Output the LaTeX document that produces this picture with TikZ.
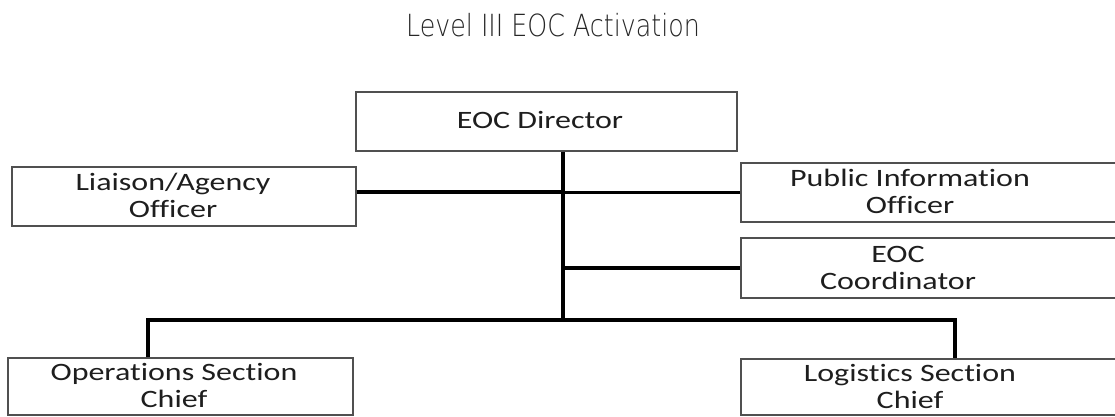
\documentclass[tikz,border=0pt]{standalone}
\usepackage{fontspec}
\setmainfont{Carlito}[Ligatures={NoCommon}]
\newfontfamily\titlefont{DejaVu Sans ExtraLight}
\usetikzlibrary{calc}
\definecolor{boxline}{HTML}{505050}
\definecolor{txt}{HTML}{1E1E1E}
\newcommand{\boxtext}[1]{\scalebox{1.28}[1]{\fontsize{25}{27}\selectfont\begin{tabular}{@{}c@{}}#1\end{tabular}}}
\tikzset{
  orgbox/.style={draw=boxline, line width=1.4pt, fill=white, inner sep=0pt},
  labeltext/.style={inner sep=0pt, text=txt},
  conn/.style={draw=black, line width=3.6pt},
  titletext/.style={inner sep=0pt, text=black!85, anchor=base}
}
\begin{document}
\begin{tikzpicture}[x=1pt, y=-1pt]
\path[use as bounding box, clip] (0,0) rectangle (1115,417);
\fill[white] (0,0) rectangle (1115,417);

\node[titletext] (title) at (553,37) {\scalebox{0.83}[1]{\titlefont\fontsize{30.5}{36}\selectfont Level III EOC Activation}};

% boxes
\node[orgbox, minimum width=381pt, minimum height=59pt] (dir) at (546.5,121.5) {};
\node[labeltext] (dirt) at (540,123) {\boxtext{EOC Director}};
\node[orgbox, minimum width=344pt, minimum height=59pt] (lia) at (184,196.5) {};
\node[labeltext] (liat) at (173,199) {\boxtext{Liaison/Agency\\Officer}};
\node[orgbox, minimum width=345pt, minimum height=57pt] (ops) at (180.5,386.5) {};
\node[labeltext] (opst) at (174,389) {\boxtext{Operations Section\\Chief}};

\node[orgbox, minimum width=384pt, minimum height=59pt] (pio) at (933,192.5) {};
\node[labeltext] (piot) at (910,195) {\boxtext{Public Information\\Officer}};
\node[orgbox, minimum width=384pt, minimum height=60pt] (coord) at (933,268) {};
\node[labeltext] (coordt) at (898,270.5) {\boxtext{EOC\\Coordinator}};
\node[orgbox, minimum width=384pt, minimum height=56pt] (log) at (933,387) {};
\node[labeltext] (logt) at (910,389.5) {\boxtext{Logistics Section\\Chief}};

% junction coordinates
\coordinate (j) at (563,320);
\coordinate (bl) at (148,320);
\coordinate (br) at (955,320);

% connectors
\draw[conn] (j |- dir.south) -- (j);
\draw[conn] ([yshift=4.5pt]lia.east) -- ([yshift=4.5pt]lia.east -| j);
\draw[conn] (pio.west) -- (pio.west -| j);
\draw[conn] (coord.west) -- (coord.west -| j);
\draw[conn, line join=miter] (ops.north -| bl) -- (bl) -- (br) -- (log.north -| br);
\end{tikzpicture}
\end{document}
